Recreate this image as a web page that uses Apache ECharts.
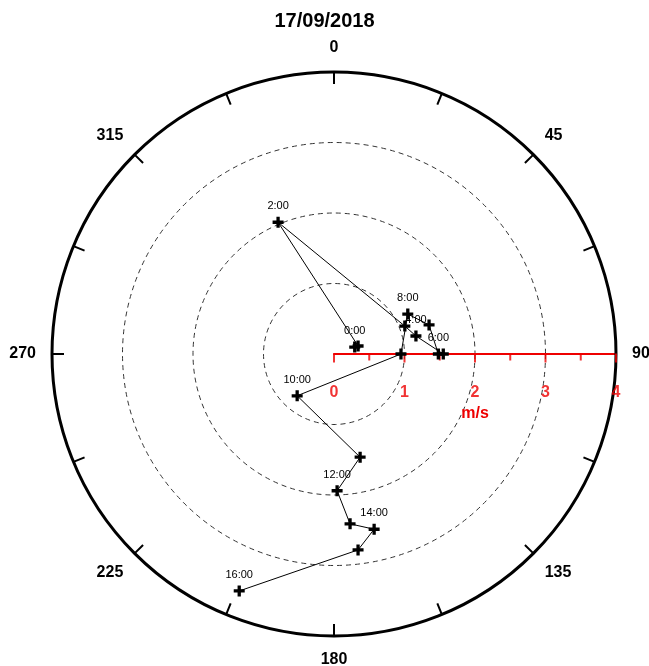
<!DOCTYPE html>
<html><head><meta charset="utf-8">
<script src="https://cdn.jsdelivr.net/npm/echarts@6/dist/echarts.min.js"></script>
<style>html,body{margin:0;background:#fff}#c{width:649px;height:666px}</style>
</head><body><div id="c"></div>
<script>
const times = ['0:00','1:00','2:00','3:00','4:00','5:00','6:00','7:00','8:00','9:00','10:00','11:00','12:00','13:00','14:00','15:00','16:00'];
const speeds = [0.31,0.36,2.03,1.08,1.19,1.55,1.48,1.41,1.19,0.95,0.79,1.51,1.94,2.42,2.55,2.80,3.62];
const directions = [71.6,71.6,337,68.5,77.6,90,90,73,61.6,90,221.4,165.8,178.7,174.6,167.1,173,201.8];
const shownLabels = ['0:00','2:00','4:00','6:00','8:00','10:00','12:00','14:00','16:00'];
const speedTicks = [0,1,2,3,4];

const cross = 'path://M3.5,0H6.5V3.5H10V6.5H6.5V10H3.5V6.5H0V3.5H3.5Z';
const data = times.map((t,i)=>({value:[speeds[i],directions[i]],name:t,
  label:{show:shownLabels.includes(t)}}));

const chart = echarts.init(document.getElementById('c'));
const common = {center:[334,354], radius:282};
chart.setOption({
  animation:false,
  title:{text:'17/09/2018',left:'center',top:6,textStyle:{fontSize:20,fontWeight:'bold',color:'#000',fontFamily:'Arial'}},
  polar:[common,{...common}],
  angleAxis:[{polarIndex:0,type:'value',min:0,max:360,interval:22.5,startAngle:90,clockwise:true,
    axisLine:{lineStyle:{color:'#000',width:3}},
    axisTick:{inside:true,length:12,lineStyle:{color:'#000',width:2}},
    axisLabel:{margin:16,fontSize:16,fontWeight:'bold',color:'#000',fontFamily:'Arial',
      formatter:v=>(v%45===0&&v<360)?String(v):''},
    splitLine:{show:false}},
   {polarIndex:1,type:'value',min:0,max:360,startAngle:0,clockwise:false,show:false}],
  radiusAxis:[{polarIndex:0,min:0,max:4,interval:1,
    axisLine:{show:false},axisTick:{show:false},axisLabel:{show:false},
    splitLine:{show:true,lineStyle:{type:[5,4],color:'#333',width:1}}},
   {polarIndex:1,min:0,max:4,interval:1,name:'m/s',nameLocation:'middle',nameGap:52,
    nameTextStyle:{color:'#e00',fontSize:16,fontWeight:'bold',fontFamily:'Arial'},
    axisLine:{lineStyle:{color:'#e00',width:2}},
    axisTick:{show:false},
    axisLabel:{show:false},
    splitLine:{show:false}}],
  series:[{type:'line',coordinateSystem:'polar',polarIndex:0,data:data,z:3,
    lineStyle:{color:'#000',width:1},itemStyle:{color:'#000'},
    symbol:cross,symbolSize:11,
    label:{position:'top',fontSize:11,color:'#000',fontFamily:'Arial',formatter:p=>p.name}},
   {type:'scatter',coordinateSystem:'polar',polarIndex:0,silent:true,z:2,
    data:speedTicks.map(v=>[v,90]),symbol:'rect',symbolSize:[2,9],symbolOffset:[0,4],
    itemStyle:{color:'#e00'},
    label:{show:true,position:'bottom',distance:22,color:'#e00',fontSize:16,fontWeight:'bold',fontFamily:'Arial',formatter:p=>String(p.value[0])}},
   {type:'scatter',coordinateSystem:'polar',polarIndex:0,silent:true,z:2,
    data:speedTicks.slice(0,4).map(v=>[v+0.5,90]),symbol:'rect',symbolSize:[2,7],symbolOffset:[0,3],
    itemStyle:{color:'#e00'}}]
});
</script></body></html>
